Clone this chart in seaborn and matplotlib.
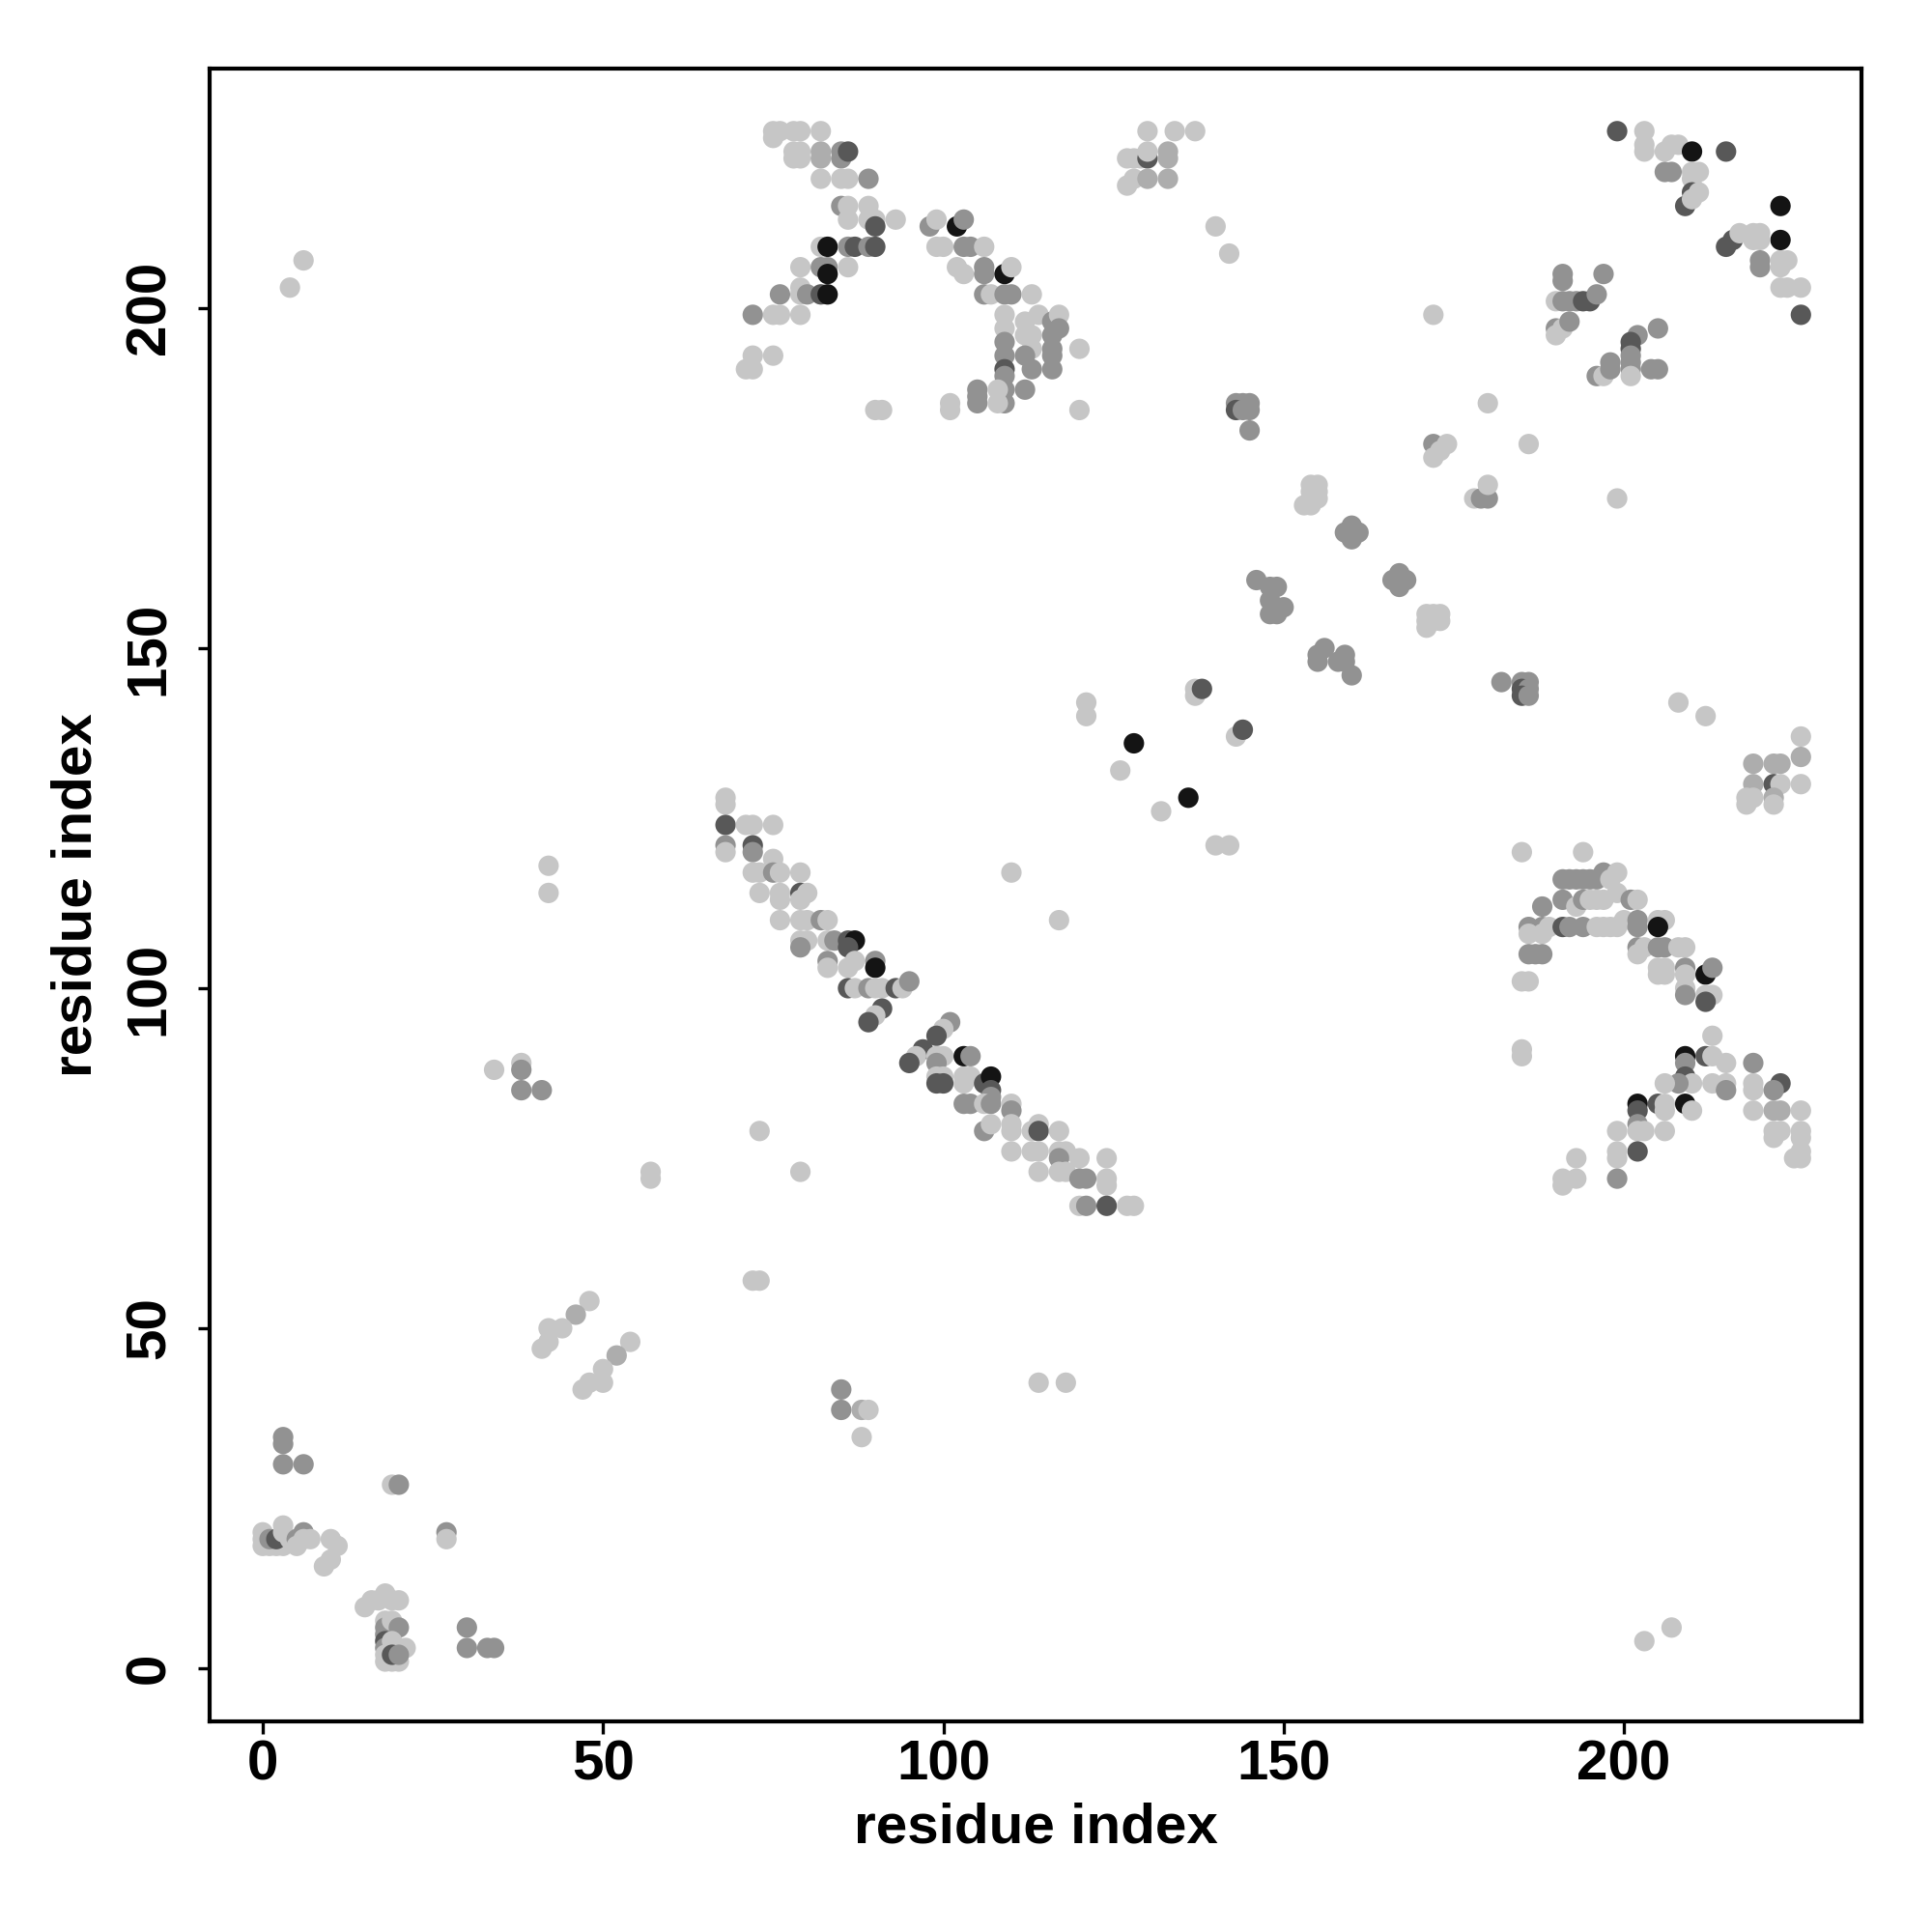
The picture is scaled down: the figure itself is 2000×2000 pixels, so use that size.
"""
Residue contact map (grey levels = contact strength).
"""
import pandas as pd
import matplotlib
matplotlib.use("Agg")
import matplotlib.pyplot as plt
import seaborn as sns

# grey level per point: 1 light .. 5 black
# ── bottom-left corner ───────────────────────────────────────────────────────
near_origin = [
    (3, 34, 3), (3, 33, 3), (3, 30, 3), (6, 30, 3),
    (19, 27, 1), (20, 27, 3), (27, 20, 3), (27, 19, 1),
    (0, 20, 1), (0, 19, 1), (0, 18, 1), (1, 18, 1), (2, 18, 1), (3, 18, 1),
    (1, 19, 3), (2, 19, 4), (3, 21, 1), (3, 20, 1), (4, 19, 1), (5, 19, 3),
    (6, 20, 3), (5, 18, 1), (6, 19, 1), (7, 19, 1), (10, 19, 1), (11, 18, 1),
    (10, 16, 1), (9, 15, 1),
    (15, 9, 1), (16, 10, 1), (17, 10, 1), (18, 11, 1), (19, 10, 1), (20, 10, 1),
    (18, 7, 1), (18, 6, 3), (18, 5, 3), (18, 4, 4), (18, 3, 3), (18, 2, 1),
    (18, 1, 1), (19, 7, 1), (20, 6, 3), (19, 4, 1), (20, 3, 1), (21, 3, 1),
    (19, 1, 1), (20, 1, 1), (19, 2, 4), (20, 2, 3),
    (30, 6, 3), (30, 3, 3), (33, 3, 3), (34, 3, 3),
]

# ── isolated contacts ────────────────────────────────────────────────────────
scattered = [
    (34, 88, 1), (38, 89, 1), (38, 88, 3), (38, 85, 3), (41, 85, 3),
    (42, 118, 1), (42, 114, 1), (73, 79, 1), (57, 73, 1), (57, 72, 1),
    (79, 73, 1), (72, 57, 1), (73, 57, 1), (85, 41, 3), (85, 38, 3),
    (88, 38, 2), (89, 38, 1), (88, 34, 1), (114, 42, 1), (118, 42, 1),
    (4, 203, 1), (6, 207, 1), (203, 4, 1), (207, 6, 1),
    (110, 117, 1), (117, 110, 1), (121, 142, 1), (121, 140, 1),
    (120, 185, 1), (120, 194, 1), (126, 132, 1), (128, 136, 5),
    (132, 126, 1), (136, 128, 5), (140, 121, 1), (142, 121, 1),
    (137, 144, 1), (137, 143, 1), (138, 144, 4), (143, 137, 1), (144, 138, 4),
    (180, 186, 1), (186, 180, 1), (172, 199, 1), (199, 172, 1),
    (185, 120, 1), (208, 142, 1), (212, 140, 1), (140, 212, 1), (142, 208, 1),
]

# ── short strands 40-55 ──────────────────────────────────────────────────────
strands_40 = [
    (48, 54, 1), (46, 52, 2), (44, 50, 1), (42, 50, 1), (42, 48, 1), (41, 47, 1),
    (54, 48, 1), (52, 46, 2), (50, 44, 1), (50, 42, 1), (48, 42, 1), (47, 41, 1),
]

# ── antiparallel band 68-128 ─────────────────────────────────────────────────
band_68_128 = [
    (68, 128, 1), (68, 127, 1), (68, 124, 4), (71, 124, 1), (72, 124, 1),
    (75, 124, 1), (68, 121, 3), (68, 120, 1), (72, 121, 4), (72, 120, 3),
    (75, 119, 1), (72, 117, 1), (73, 117, 1), (75, 117, 3), (76, 117, 1),
    (79, 117, 1), (73, 114, 1), (76, 114, 1), (79, 114, 4), (80, 114, 1),
    (76, 113, 1), (79, 113, 1), (76, 110, 1), (79, 110, 1), (80, 110, 1),
    (82, 110, 3), (83, 110, 1), (79, 107, 1), (80, 107, 1), (79, 106, 3),
    (83, 107, 1), (84, 107, 3), (86, 107, 4), (87, 107, 5), (86, 106, 4),
    (83, 104, 3), (83, 103, 1), (86, 103, 1), (87, 104, 1), (90, 104, 3),
    (90, 103, 5), (86, 100, 4), (87, 100, 1), (89, 100, 3), (90, 100, 1),
    (91, 100, 1), (93, 100, 4), (94, 100, 1), (95, 101, 3), (91, 97, 4),
    (90, 96, 1), (89, 95, 4), (101, 95, 3), (100, 94, 1), (99, 93, 4),
    (97, 91, 4), (96, 90, 1), (95, 89, 4), (99, 90, 1), (100, 90, 1),
    (99, 89, 3), (103, 90, 5), (104, 90, 3), (99, 87, 1), (100, 87, 1),
    (99, 86, 4), (100, 86, 4), (103, 87, 1), (104, 87, 1), (103, 86, 1),
    (106, 86, 4), (107, 87, 5), (107, 85, 4), (107, 84, 3), (103, 83, 3),
    (104, 83, 3), (106, 83, 1), (107, 83, 3), (110, 83, 1), (110, 82, 3),
    (106, 79, 3), (107, 80, 1), (110, 80, 1), (110, 79, 1), (113, 79, 1),
    (114, 80, 1), (114, 79, 4), (117, 79, 1), (110, 76, 1), (113, 76, 1),
    (114, 76, 1), (117, 76, 1), (118, 76, 1), (117, 75, 3), (120, 75, 1),
    (124, 75, 1), (114, 73, 1), (117, 73, 1), (118, 73, 1), (120, 72, 3),
    (121, 72, 3), (124, 72, 1), (124, 71, 1), (120, 68, 1), (121, 68, 3),
    (124, 68, 4), (127, 68, 1), (128, 68, 1),
]

# ── near-diagonal helices 143-186 ────────────────────────────────────────────
mid_diagonal = [
    (146, 160, 3), (148, 159, 3), (149, 159, 3), (148, 157, 3), (150, 156, 3),
    (148, 155, 3), (149, 155, 3), (155, 149, 3), (156, 150, 3), (155, 148, 3),
    (158, 148, 3), (159, 149, 3), (159, 148, 3), (160, 146, 3),
    (155, 174, 1), (154, 174, 1), (155, 173, 1), (154, 173, 1), (154, 172, 1),
    (155, 172, 1), (153, 171, 1), (154, 171, 1),
    (160, 168, 3), (159, 167, 3), (161, 167, 3), (160, 166, 3),
    (167, 161, 3), (166, 160, 3), (168, 160, 3), (167, 159, 3),
    (171, 155, 1), (172, 155, 1), (173, 155, 1), (171, 154, 1), (172, 154, 1),
    (173, 154, 1), (171, 153, 1),
    (172, 180, 3), (174, 180, 1), (173, 179, 1), (172, 178, 1),
    (178, 172, 1), (179, 172, 3), (180, 172, 3), (180, 174, 1),
    (182, 145, 3), (185, 145, 3), (186, 145, 3), (185, 144, 4), (186, 144, 3),
    (185, 143, 4), (186, 143, 3),
    (143, 186, 3), (144, 186, 3), (145, 186, 3), (143, 185, 4), (144, 185, 3),
    (145, 185, 3), (145, 182, 3),
]

# ── top, 127-137 x 218-226 ───────────────────────────────────────────────────
top_middle = [
    (130, 226, 1), (134, 226, 1), (137, 226, 1), (127, 222, 1), (128, 222, 1),
    (129, 222, 1), (130, 222, 4), (133, 222, 2), (130, 223, 1), (133, 223, 2),
    (127, 218, 1), (128, 219, 1), (130, 219, 2), (133, 219, 2),
]

# ── top-left sheet, 70-95 x 185-227 ──────────────────────────────────────────
top_left_a = [
    (75, 226, 1), (76, 226, 1), (78, 226, 1), (79, 226, 1), (82, 226, 1),
    (75, 225, 1), (78, 223, 1), (79, 223, 1), (78, 222, 1), (79, 222, 1),
    (82, 223, 2), (82, 222, 2), (85, 223, 3), (85, 222, 3), (86, 223, 4),
    (82, 219, 1), (85, 219, 1), (86, 219, 1), (89, 219, 3),
    (85, 215, 3), (86, 215, 1), (89, 215, 1),
    (86, 213, 1), (89, 213, 1), (90, 213, 1), (93, 213, 1), (90, 212, 4),
    (82, 209, 1), (83, 209, 5), (86, 209, 3), (87, 209, 4), (89, 209, 3),
    (90, 209, 4), (79, 206, 1), (82, 206, 3), (83, 206, 3), (83, 205, 5),
    (86, 206, 1), (76, 202, 3), (79, 203, 1), (79, 202, 1), (80, 202, 3),
    (82, 202, 4), (83, 202, 5), (72, 199, 3), (75, 199, 1), (76, 199, 1),
    (79, 199, 1), (72, 193, 1), (75, 193, 1), (71, 191, 1), (72, 191, 1),
    (90, 185, 1), (91, 185, 1),
]

# ── top-left sheet, 98-120 x 185-213 ─────────────────────────────────────────
top_left_b = [
    (98, 212, 3), (99, 213, 1), (102, 212, 5), (103, 213, 3),
    (99, 209, 1), (100, 209, 1), (103, 209, 3), (104, 209, 3), (106, 209, 1),
    (102, 206, 1), (103, 205, 1), (106, 206, 3), (106, 205, 3), (109, 205, 5),
    (110, 206, 1), (106, 202, 3), (107, 202, 1), (109, 202, 3), (110, 202, 3),
    (113, 202, 1), (109, 199, 1), (112, 198, 1), (114, 199, 1), (116, 198, 3),
    (117, 199, 1), (109, 197, 1), (109, 195, 3), (109, 193, 3), (109, 191, 4),
    (109, 190, 3), (109, 188, 3), (109, 186, 3), (112, 196, 1), (113, 196, 1),
    (113, 194, 1), (112, 193, 3), (113, 191, 3), (116, 196, 3), (116, 194, 3),
    (116, 193, 3), (116, 191, 3), (117, 197, 3), (112, 188, 3), (105, 188, 3),
    (105, 187, 3), (105, 186, 3), (108, 188, 1), (108, 186, 1), (101, 186, 1),
    (101, 185, 1),
]

# ── top-right, 190-227 x 189-227 ─────────────────────────────────────────────
top_right = [
    (199, 226, 4), (203, 226, 1), (203, 224, 1), (203, 223, 1), (206, 223, 1),
    (207, 224, 1), (208, 224, 1), (210, 223, 5), (215, 223, 4),
    (206, 220, 3), (207, 220, 3), (210, 220, 1), (211, 220, 1), (210, 219, 1),
    (210, 217, 4), (211, 217, 1), (209, 215, 4), (210, 216, 1),
    (223, 215, 5), (223, 210, 5),
    (215, 209, 4), (216, 210, 4), (217, 211, 1), (219, 211, 1), (220, 211, 1),
    (219, 210, 1), (220, 210, 1), (220, 207, 3), (220, 206, 3), (223, 207, 1),
    (224, 207, 1), (223, 206, 1), (223, 203, 1), (224, 203, 1), (226, 203, 1),
    (226, 199, 4),
    (191, 205, 3), (191, 204, 3), (197, 205, 3),
    (190, 201, 1), (191, 201, 3), (192, 201, 3), (193, 201, 3), (194, 201, 4),
    (195, 201, 4), (196, 202, 3), (190, 197, 3), (190, 196, 1), (191, 197, 1),
    (192, 198, 3), (202, 196, 3), (201, 195, 4), (201, 194, 4), (201, 193, 3),
    (201, 192, 3), (201, 191, 3), (201, 190, 1), (205, 197, 3), (204, 191, 3),
    (205, 191, 3), (196, 190, 3), (197, 190, 1), (198, 191, 3), (198, 192, 3),
]

# ── right, 218-226 x 127-137 ─────────────────────────────────────────────────
right_upper = [
    (226, 137, 1), (226, 134, 2), (226, 130, 1), (219, 133, 2), (222, 133, 2),
    (223, 133, 2), (219, 130, 2), (222, 130, 4), (223, 130, 1), (218, 128, 1),
    (218, 127, 1), (219, 128, 1), (222, 128, 2), (222, 127, 1),
]

# ── right, 185-213 x 98-120 ──────────────────────────────────────────────────
right_middle = [
    (194, 120, 1),
    (191, 116, 3), (192, 116, 3), (193, 116, 3), (194, 116, 3), (195, 116, 3),
    (196, 116, 3), (197, 117, 3), (198, 116, 1), (199, 117, 1),
    (191, 113, 3), (193, 112, 1), (194, 113, 3), (195, 113, 1), (196, 113, 1),
    (197, 113, 1), (199, 114, 1), (201, 113, 3), (202, 113, 1), (188, 112, 3),
    (186, 109, 3), (188, 109, 3), (189, 109, 1), (191, 109, 4), (192, 109, 3),
    (194, 109, 3), (196, 109, 1), (197, 109, 1), (198, 109, 1), (199, 109, 1),
    (200, 110, 1), (202, 110, 3), (202, 109, 3), (186, 108, 1), (188, 108, 1),
    (205, 110, 1), (206, 110, 1), (205, 109, 5),
    (186, 105, 3), (187, 105, 3), (188, 105, 3),
    (202, 106, 3), (203, 106, 1), (202, 105, 1),
    (205, 106, 3), (206, 106, 3), (208, 106, 1), (209, 106, 1),
    (185, 101, 1), (186, 101, 1),
    (205, 103, 1), (206, 103, 1), (205, 102, 1), (206, 102, 1),
    (209, 103, 3), (209, 102, 1), (209, 100, 1), (209, 99, 3),
    (212, 102, 5), (213, 103, 3), (212, 99, 1), (213, 99, 1), (212, 98, 4),
]

# ── right, 185-227 x 71-93 ───────────────────────────────────────────────────
right_lower = [
    (213, 93, 1), (185, 91, 1), (185, 90, 1),
    (209, 90, 5), (209, 89, 3), (212, 90, 4), (213, 90, 1), (215, 89, 1),
    (219, 89, 3), (209, 87, 4), (210, 86, 1), (208, 86, 3), (206, 86, 1),
    (213, 86, 1), (215, 86, 1), (215, 85, 3), (219, 86, 1), (219, 85, 1),
    (223, 86, 4), (222, 85, 3),
    (202, 83, 5), (205, 83, 4), (206, 83, 1), (209, 83, 5), (210, 82, 1),
    (202, 82, 4), (206, 82, 1), (219, 82, 1), (222, 82, 2), (223, 82, 2),
    (226, 82, 1), (202, 80, 3), (202, 79, 1), (203, 79, 1), (206, 79, 1),
    (199, 79, 1), (222, 79, 1), (223, 79, 1), (222, 78, 1), (226, 79, 1),
    (226, 78, 1), (202, 76, 4), (199, 76, 1), (199, 75, 1), (226, 76, 1),
    (225, 75, 1), (226, 75, 1), (193, 75, 1), (191, 72, 1), (193, 72, 1),
    (191, 71, 1), (199, 72, 3),
]

ticks = [0, 50, 100, 150, 200]
grey_levels = {1: "#c6c6c6", 2: "#adadad", 3: "#929292", 4: "#585858", 5: "#141414"}

clusters = [near_origin, scattered, strands_40, band_68_128, mid_diagonal,
            top_middle, top_left_a, top_left_b, top_right, right_upper,
            right_middle, right_lower]
contacts = pd.DataFrame([p for c in clusters for p in c], columns=["i", "j", "level"])

sns.set_theme(style="ticks")
plt.rcParams["font.family"] = ["Liberation Sans", "DejaVu Sans"]
plt.rcParams.update({"text.color": "black", "axes.labelcolor": "black",
                     "xtick.color": "black", "ytick.color": "black"})

fig = plt.figure(figsize=(10, 10), dpi=200)
ax = fig.add_axes([0.1085, 0.109, 0.855, 0.8555])

sns.scatterplot(data=contacts, x="i", y="j", hue="level", palette=grey_levels,
                s=58, linewidth=0, legend=False, ax=ax)

ax.set_xlim(-7.8, 234.9)
ax.set_ylim(-7.8, 235.2)
ax.set_xticks(ticks)
ax.set_yticks(ticks)
ax.set_xticklabels([str(t) for t in ticks], fontsize=21, fontweight="bold")
ax.set_yticklabels([str(t) for t in ticks], fontsize=21, fontweight="bold",
                   rotation=90, va="center")
ax.tick_params(axis="both", colors="black", labelcolor="black")
ax.tick_params(axis="x", length=4.5, width=1.2, pad=2)
ax.tick_params(axis="y", length=4.5, width=1.2, pad=8)
for side in ["top", "right", "bottom", "left"]:
    ax.spines[side].set_visible(True)
    ax.spines[side].set_color("black")
    ax.spines[side].set_linewidth(1.5)

ax.set_xlabel("residue index", fontsize=21, fontweight="bold", color="black")
ax.set_ylabel("residue index", fontsize=21, fontweight="bold", color="black")
ax.xaxis.label.set_va("center")
ax.yaxis.label.set_va("center")
ax.xaxis.set_label_coords(0.5, -0.0643)
ax.yaxis.set_label_coords(-0.0807, 0.5)

fig.savefig("out.png", dpi=200, facecolor="white")
